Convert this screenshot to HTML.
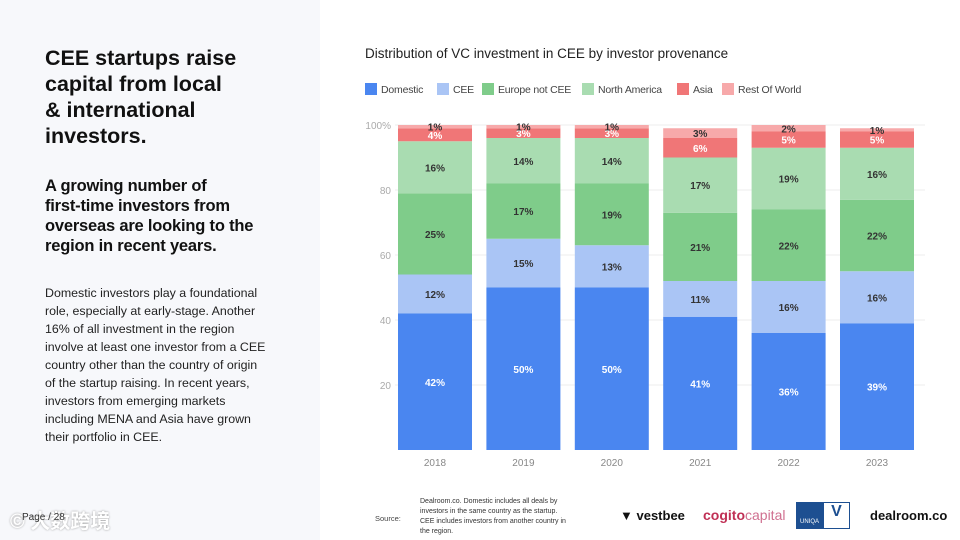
<!DOCTYPE html>
<html><head><meta charset="utf-8"><style>
body{margin:0;width:960px;height:540px;overflow:hidden;background:#fff;font-family:"Liberation Sans","Noto Sans CJK SC",sans-serif;position:relative}
#left{position:absolute;left:0;top:0;width:320px;height:540px;background:#f7f8fb}
h1{position:absolute;left:45px;top:45px;margin:0;font-size:21.5px;line-height:26px;font-weight:bold;color:#111;white-space:nowrap;letter-spacing:0px}
h2{position:absolute;left:45px;top:176px;margin:0;font-size:16.5px;line-height:20px;font-weight:bold;color:#111;white-space:nowrap;letter-spacing:-0.2px}
#body{position:absolute;left:45px;top:284px;font-size:12.4px;line-height:18px;color:#222;white-space:nowrap;letter-spacing:0px}
#page{position:absolute;left:22px;top:512px;font-size:10px;color:#333}
#wm{position:absolute;left:10px;top:505px;font-size:20px;color:#fff;text-shadow:0 0 2px #999;font-weight:bold}
</style></head><body>
<div id="left"></div>
<h1>CEE startups raise<br>capital from local<br>&amp; international<br>investors.</h1>
<h2>A growing number of<br>first-time investors from<br>overseas are looking to the<br>region in recent years.</h2>
<div id="body">Domestic investors play a foundational<br>role, especially at early-stage. Another<br>16% of all investment in the region<br>involve at least one investor from a CEE<br>country other than the country of origin<br>of the startup raising. In recent years,<br>investors from emerging markets<br>including MENA and Asia have grown<br>their portfolio in CEE.</div>
<div id="wm">© 大数跨境</div>
<div id="page">Page / 28</div>
<svg id="chart" width="960" height="540" style="position:absolute;left:0;top:0"></svg>
<script>
const categories=["2018","2019","2020","2021","2022","2023"];
const seriesNames=["Domestic","CEE","Europe not CEE","North America","Asia","Rest Of World"];
const domestic=[42,50,50,41,36,39];
const cee=[12,15,13,11,16,16];
const europe=[25,17,19,21,22,22];
const northAmerica=[16,14,14,17,19,16];
const asia=[4,3,3,6,5,5];
const restOfWorld=[1,1,1,3,2,1];
const yTicks=[20,40,60,80,100];
const colors=["#4a86f0","#aac5f5","#7fcc8a","#a9dcb1","#f07677","#f7a9aa"];
const textColors=["#fff","#333","#333","#333","#fff","#333"];
const series=[domestic,cee,europe,northAmerica,asia,restOfWorld];
const NS="http://www.w3.org/2000/svg";
const svg=document.getElementById('chart');
const y0=450,y100=125;
const y=v=>y0-(y0-y100)*v/100;
const x=i=>435+i*88.4;
const bw=74;
function mk(t,a,txt){const e=document.createElementNS(NS,t);for(const k in a)e.setAttribute(k,a[k]);if(txt!=null)e.textContent=txt;svg.appendChild(e);return e;}
let e=mk('text',{x:365,y:58,'font-size':13.5,fill:'#222'},"Distribution of VC investment in CEE by investor provenance");

const lx=[365,437,482,582,677,722];
seriesNames.forEach((n,i)=>{
 const r=mk('rect',{x:lx[i],y:83,width:12,height:12,fill:colors[i]});
 
 const t=mk('text',{x:lx[i]+16,y:93,'font-size':10.5,fill:'#444','letter-spacing':'-0.2'},n);
 
});
yTicks.forEach(v=>{
 const l=mk('line',{x1:395,x2:925,y1:y(v),y2:y(v),stroke:'#eee'});
 
 const t=mk('text',{x:391,y:y(v)+4,'font-size':10,fill:'#aaa','text-anchor':'end'},v===100?'100%':v);
 
});
categories.forEach((c,i)=>{
 let acc=0;
 series.forEach((s,j)=>{
  const v=s[i];
  const r=mk('rect',{x:x(i)-bw/2,y:y(acc+v),width:bw,height:y(acc)-y(acc+v),fill:colors[j]});
  
  
  const t=mk('text',{x:x(i),y:(y(acc)+y(acc+v))/2+4,'font-size':10,'font-weight':'bold',fill:textColors[j],'text-anchor':'middle'},v+'%');
  
  acc+=v;
 });
 const t=mk('text',{x:x(i),y:466,'font-size':10,fill:'#888','text-anchor':'middle'},c);
 
});
</script>
<div style="position:absolute;left:375px;top:514px;font-size:7.5px;color:#444">Source:</div>
<div style="position:absolute;left:420px;top:497px;width:150px;font-size:7px;line-height:10px;color:#333">Dealroom.co. Domestic includes all deals by investors in the same country as the startup. CEE includes investors from another country in the region.</div>
<div style="position:absolute;left:620px;top:508px;font-size:13px;font-weight:bold;color:#111">▼ vestbee</div>
<div style="position:absolute;left:703px;top:507px;font-size:14px;color:#c03055"><b>cogito</b><span style="color:#d07090">capital</span></div>
<div style="position:absolute;left:796px;top:502px;width:54px;height:27px;display:flex"><div style="width:27px;background:#1d4f91;color:#fff;font-size:6px;text-align:center;padding-top:17px;box-sizing:border-box">UNIQA</div><div style="width:27px;border:1px solid #1d4f91;box-sizing:border-box;color:#1d4f91;font-weight:bold;font-size:16px;text-align:center">V</div></div>
<div style="position:absolute;left:870px;top:508px;font-size:13px;font-weight:bold;color:#111">dealroom.co</div>
</body></html>
